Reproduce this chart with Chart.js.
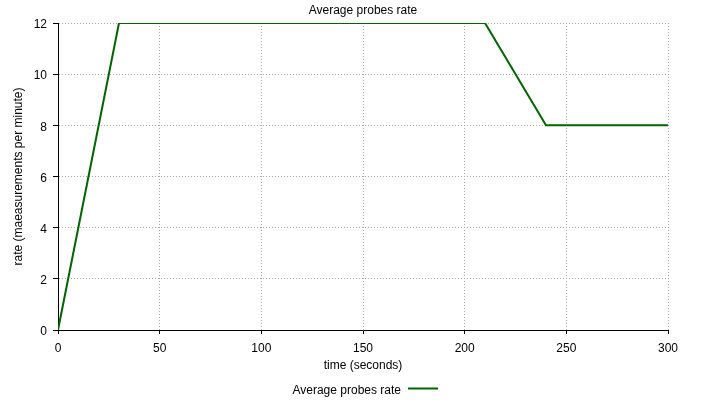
<!DOCTYPE html>
<html>
<head>
<meta charset="utf-8">
<script src="https://cdn.jsdelivr.net/npm/chart.js@4/dist/chart.umd.min.js"></script>
<style>
  html, body { margin: 0; padding: 0; background: #fff; }
  #wrap { width: 703px; height: 400px; position: relative; }
</style>
</head>
<body>
<div id="wrap"><canvas id="c" width="703" height="400"></canvas></div>
<script>
const chartTitle = "Average probes rate";
const seriesLabel = "Average probes rate";
const xTitle = "time (seconds)";
const yTitle = "rate (maeasurements per minute)";
const timeSeconds = [0, 30, 210, 240, 300];
const rateValues = [0, 12, 12, 8, 8];
const xTicks = [0, 50, 100, 150, 200, 250, 300];
const yTicks = [0, 2, 4, 6, 8, 10, 12];

const FONT = "'Liberation Sans', Arial, Helvetica, sans-serif";
const LINE_COLOR = "#006400";

const legendRight = {
  id: "legendRight",
  afterDraw(chart) {
    const ctx = chart.ctx;
    const area = chart.chartArea;
    const cx = (area.left + area.right) / 2;
    const ds = chart.data.datasets[0];
    ctx.save();
    ctx.font = "12px " + FONT;
    ctx.fillStyle = "#000";
    ctx.textAlign = "right";
    ctx.textBaseline = "middle";
    const textRight = cx + 38;
    ctx.fillText(ds.label, textRight, 391);
    ctx.strokeStyle = ds.borderColor;
    ctx.lineWidth = 2;
    ctx.beginPath();
    ctx.moveTo(textRight + 7, 388.5);
    ctx.lineTo(textRight + 37, 388.5);
    ctx.stroke();
    ctx.restore();
  }
};

new Chart(document.getElementById("c"), {
  type: "line",
  data: {
    datasets: [{
      label: seriesLabel,
      data: timeSeconds.map((t, i) => ({ x: t, y: rateValues[i] })),
      borderColor: LINE_COLOR,
      backgroundColor: LINE_COLOR,
      borderWidth: 2,
      pointRadius: 0,
      tension: 0,
      fill: false
    }]
  },
  options: {
    responsive: false,
    animation: false,
    layout: { padding: { top: 0, right: 35, bottom: 27, left: 0 } },
    plugins: {
      legend: { display: false },
      tooltip: { enabled: false },
      title: {
        display: true,
        text: chartTitle,
        fullSize: false,
        color: "#000",
        font: { family: FONT, size: 12, weight: "normal" },
        padding: { top: 3, bottom: 5.6 }
      }
    },
    scales: {
      x: {
        type: "linear",
        min: 0, max: 300,
        afterFit(s) { s.height = 43; },
        afterBuildTicks(s) { s.ticks = xTicks.map(v => ({ value: v })); },
        ticks: { color: "#000", font: { family: FONT, size: 12 }, padding: 7, maxRotation: 0, autoSkip: false },
        grid: { color: "#a8a8a8", lineWidth: 1, tickLength: 4, tickColor: "#000", tickBorderDash: [] },
        border: { display: true, color: "#000", width: 1, dash: [1, 2] },
        title: { display: true, text: xTitle, color: "#000", font: { family: FONT, size: 12 }, padding: { top: 0, bottom: 0 } }
      },
      y: {
        type: "linear",
        min: 0, max: 12,
        afterFit(s) { s.width = 58; },
        afterBuildTicks(s) { s.ticks = yTicks.map(v => ({ value: v })); },
        ticks: { color: "#000", font: { family: FONT, size: 12 }, padding: 6, labelOffset: 2, autoSkip: false },
        grid: { color: "#a8a8a8", lineWidth: 1, tickLength: 5, tickColor: "#000", tickBorderDash: [] },
        border: { display: true, color: "#000", width: 1, dash: [1, 2] },
        title: { display: true, text: yTitle, color: "#000", font: { family: FONT, size: 12 }, padding: { top: 11, bottom: 0 } }
      }
    }
  },
  plugins: [legendRight]
});
</script>
</body>
</html>
